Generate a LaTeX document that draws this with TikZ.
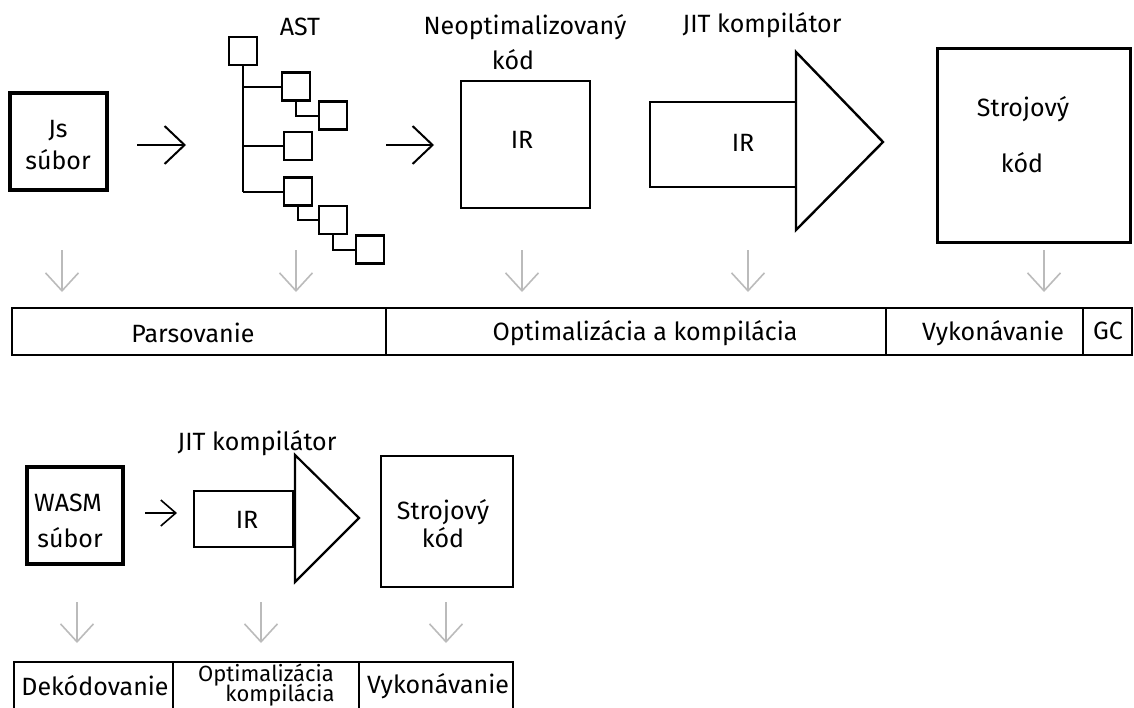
\documentclass[tikz,border=0pt]{standalone}
\usepackage{fontspec}
\setmainfont{Fira Sans}
\usetikzlibrary{arrows.meta}
\definecolor{lightgr}{HTML}{BBBBBB}
\tikzset{
  txt/.style={inner sep=0pt, font=\fontsize{25}{28}\selectfont},
  btxt/.style={inner sep=0pt, font=\fontsize{22}{24}\selectfont},
  thickbox/.style={draw, line width=3.2pt, inner sep=0pt},
  box/.style={draw, line width=2.4pt, inner sep=0pt},
  astbox/.style={draw, line width=2.3pt, inner sep=0pt, minimum width=28pt, minimum height=28pt},
  treeline/.style={line width=2pt},
  barbox/.style={draw, line width=2.2pt, inner sep=0pt},
  blackarrow/.style={line width=2pt, -{Straight Barb[length=20pt,width=38pt,line width=2pt]}},
  smallarrow/.style={line width=1.6pt, -{Straight Barb[length=15pt,width=26pt,line width=1.6pt]}},
  grayarrow/.style={draw=lightgr, line width=1.6pt, -{Straight Barb[length=18pt,width=33pt,line width=1.6pt]}},
}
\begin{document}
\begin{tikzpicture}[x=1pt,y=-1pt]
\useasboundingbox (0,0) rectangle (1134,707);
\clip (0,0) rectangle (1134,707);

% ---------- top row ----------
\node[thickbox, minimum width=97pt, minimum height=97pt] (js) at (58.5,141.5) {};
\node[txt] (jst1) at (58,131) {Js};
\node[txt] (jst2) at (58,160) {súbor};

\coordinate (a1s) at (137,145);
\coordinate (a1e) at (186,145);
\draw[blackarrow] (a1s) -- (a1e);

% AST tree
\node[astbox] (root) at (243,51) {};
\node[astbox] (c1) at (296,86.5) {};
\node[astbox] (c11) at (333,115.5) {};
\node[astbox] (c2) at (298,146) {};
\node[astbox] (c3) at (298,191.5) {};
\node[astbox] (c31) at (333,220) {};
\node[astbox] (c311) at (370,249.5) {};
\node[txt] (astl) at (300,27) {AST};
\draw[treeline] (root.south) -- (root.south |- c3.west);
\draw[treeline] (root.south |- c1.west) -- (c1.west);
\draw[treeline] (root.south |- c2.west) -- (c2.west);
\draw[treeline] (root.south |- c3.west) -- (c3.west);
\draw[treeline] (c1.south) |- (c11.west);
\draw[treeline] (c3.south) |- (c31.west);
\draw[treeline] (c31.south) |- (c311.west);

\coordinate (a2s) at (386,145);
\coordinate (a2e) at (434,145);
\draw[blackarrow] (a2s) -- (a2e);

% Neoptimalizovany kod
\node[box, minimum width=129pt, minimum height=127pt] (neo) at (525.5,144.5) {};
\node[txt] (neot1) at (525,27) {Neoptimalizovaný};
\node[txt] (neot2) at (513,60) {kód};
\node[txt] (neoir) at (522,140) {IR};

% JIT compiler arrow
\node[box, minimum width=146pt, minimum height=85pt] (jitr) at (723,144.5) {};
\coordinate (jtb1) at (796,52);
\coordinate (jtb2) at (796,230);
\coordinate (jtip) at (883,142);
\draw[line width=2.4pt, line join=miter] (jtb1) -- (jtip) -- (jtb2) -- cycle;
\node[txt] (jitir) at (743,143) {IR};
\node[txt] (jitl) at (762,25) {JIT kompilátor};

% Strojovy kod
\node[box, line width=3pt, minimum width=193pt, minimum height=194pt] (stroj) at (1034,145) {};
\node[txt] (strt1) at (1023,109) {Strojový};
\node[txt] (strt2) at (1022,163) {kód};

% gray arrows top
\foreach \i/\x in {1/62,2/296,3/522,4/748,5/1044}{
  \coordinate (gt\i s) at (\x,250);
  \coordinate (gt\i e) at (\x,292);
  \draw[grayarrow] (gt\i s) -- (gt\i e);
}

% top bar
\node[barbox, minimum width=374pt, minimum height=47pt] (bp) at (199,331.5) {};
\node[barbox, minimum width=500pt, minimum height=47pt] (bo) at (636,331.5) {};
\node[barbox, minimum width=197pt, minimum height=47pt] (bv) at (984.5,331.5) {};
\node[barbox, minimum width=49pt, minimum height=47pt] (bg) at (1107.5,331.5) {};
\node[txt] (tp) at (193,333) {Parsovanie};
\node[txt] (to) at (645,333) {Optimalizácia a kompilácia};
\node[txt] (tv) at (993,333) {Vykonávanie};
\node[txt] (tg) at (1108,331) {GC};

% ---------- bottom row ----------
\node[thickbox, minimum width=96pt, minimum height=97pt] (wasm) at (75,515.5) {};
\node[txt] (wt1) at (68,503) {WASM};
\node[txt] (wt2) at (70,538) {súbor};

\coordinate (b1s) at (145,513);
\coordinate (b1e) at (177,513);
\draw[smallarrow] (b1s) -- (b1e);

\node[box, line width=2pt, minimum width=99pt, minimum height=56pt] (bjitr) at (243.5,519) {};
\coordinate (bjb1) at (295,455);
\coordinate (bjb2) at (295,582);
\coordinate (bjtip) at (359,518);
\draw[line width=2.2pt, line join=miter] (bjb1) -- (bjtip) -- (bjb2) -- cycle;
\node[txt] (bjir) at (247,520) {IR};
\node[txt] (bjl) at (257,443) {JIT kompilátor};

\node[box, line width=2.2pt, minimum width=132pt, minimum height=131pt] (bstroj) at (447,521.5) {};
\node[txt] (bst1) at (443,512) {Strojový};
\node[txt] (bst2) at (443,538) {kód};

\foreach \i/\x in {1/77,2/261,3/446}{
  \coordinate (gb\i s) at (\x,602);
  \coordinate (gb\i e) at (\x,643);
  \draw[grayarrow] (gb\i s) -- (gb\i e);
}

\node[barbox, minimum width=159pt, minimum height=60pt] (bd) at (93.5,692) {};
\node[barbox, minimum width=186pt, minimum height=60pt] (bok) at (266,692) {};
\node[barbox, minimum width=154pt, minimum height=60pt] (bvk) at (436,692) {};
\node[txt] (td) at (95,686) {Dekódovanie};
\node[btxt] (tok1) at (266,675) {Optimalizácia};
\node[btxt] (tok2) at (280,695) {kompilácia};
\node[txt] (tvk) at (438,686) {Vykonávanie};
\end{tikzpicture}
\end{document}
